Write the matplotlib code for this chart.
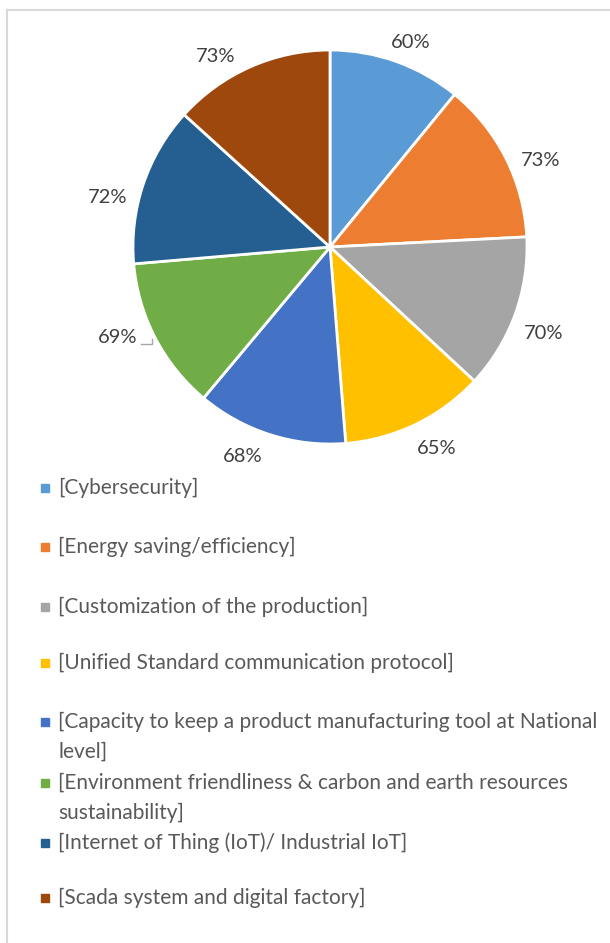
import numpy as np
import matplotlib.pyplot as plt
from matplotlib.lines import Line2D

# Data
categories = [
    "[Cybersecurity]",
    "[Energy saving/efficiency]",
    "[Customization of the production]",
    "[Unified Standard communication protocol]",
    "[Capacity to keep a product manufacturing tool at National\nlevel]",
    "[Environment friendliness & carbon and earth resources\nsustainability]",
    "[Internet of Thing (IoT)/ Industrial IoT]",
    "[Scada system and digital factory]",
]
values = [60, 73, 70, 65, 68, 69, 72, 73]
colors = ["#5B9BD5", "#ED7D31", "#A5A5A5", "#FFC000",
          "#4472C4", "#70AD47", "#255E91", "#9E480E"]

# layout only: small clockwise nudges (deg) of the data labels, like Excel's best fit
label_nudge = [2, 4.5, 2, -2, 5, 4.5, -6, -7]

plt.rcParams['font.family'] = ['Lato', 'DejaVu Sans']

W, H = 610, 943
fig = plt.figure(figsize=(W / 100, H / 100), dpi=100)

# pie area: center (330, 247) px, radius 197 px
cx, cy, rad = 330, 247, 197
ax = fig.add_axes([(cx - rad) / W, 1 - (cy + rad) / H, 2 * rad / W, 2 * rad / H])
wedges, _ = ax.pie(values, colors=colors, startangle=90, counterclock=False,
                   radius=1, wedgeprops=dict(edgecolor='white', linewidth=2))
ax.set_xlim(-1, 1)
ax.set_ylim(-1, 1)
ax.set_aspect('equal')
ax.axis('off')

# data labels outside each slice (labels to the side / below sit a bit further out)
label_pos = []
for w, v, nd in zip(wedges, values, label_nudge):
    ang = np.deg2rad((w.theta1 + w.theta2) / 2 - nd)
    r = 1.09 + 0.07 * abs(np.cos(ang)) + 0.04 * max(0, -np.sin(ang))
    lx, ly = r * np.cos(ang), r * np.sin(ang)
    label_pos.append((lx, ly))
    ax.text(lx, ly, f"{v}%", ha='center', va='center',
            fontsize=14.5, color='#404040')

# small leader mark next to the 69% label
lx, ly = label_pos[5]
ax.plot([lx + 0.12, lx + 0.175, lx + 0.175], [ly - 0.035, ly - 0.035, ly - 0.01],
        color='#A6A6A6', lw=1, clip_on=False)

# legend drawn by hand
legend_y = [488, 547, 607, 663, 722, 783, 843, 898]
for lab, col, y in zip(categories, colors, legend_y):
    fig.patches.append(plt.Rectangle(((45 - 4) / W, 1 - (y + 4) / H), 8 / W, 8 / H,
                                     transform=fig.transFigure, color=col))
    for i, line in enumerate(lab.split("\n")):
        fig.text(58 / W, 1 - (y + i * 30) / H, line, ha='left', va='center',
                 fontsize=15, color='#595959')

# chart border
fig.add_artist(Line2D([7 / W, 7 / W], [0, 1 - 10 / H], color='#D9D9D9', lw=1.5))
fig.add_artist(Line2D([7 / W, 1], [1 - 10 / H, 1 - 10 / H], color='#D9D9D9', lw=1.5))

fig.savefig("out.png", dpi=100)
